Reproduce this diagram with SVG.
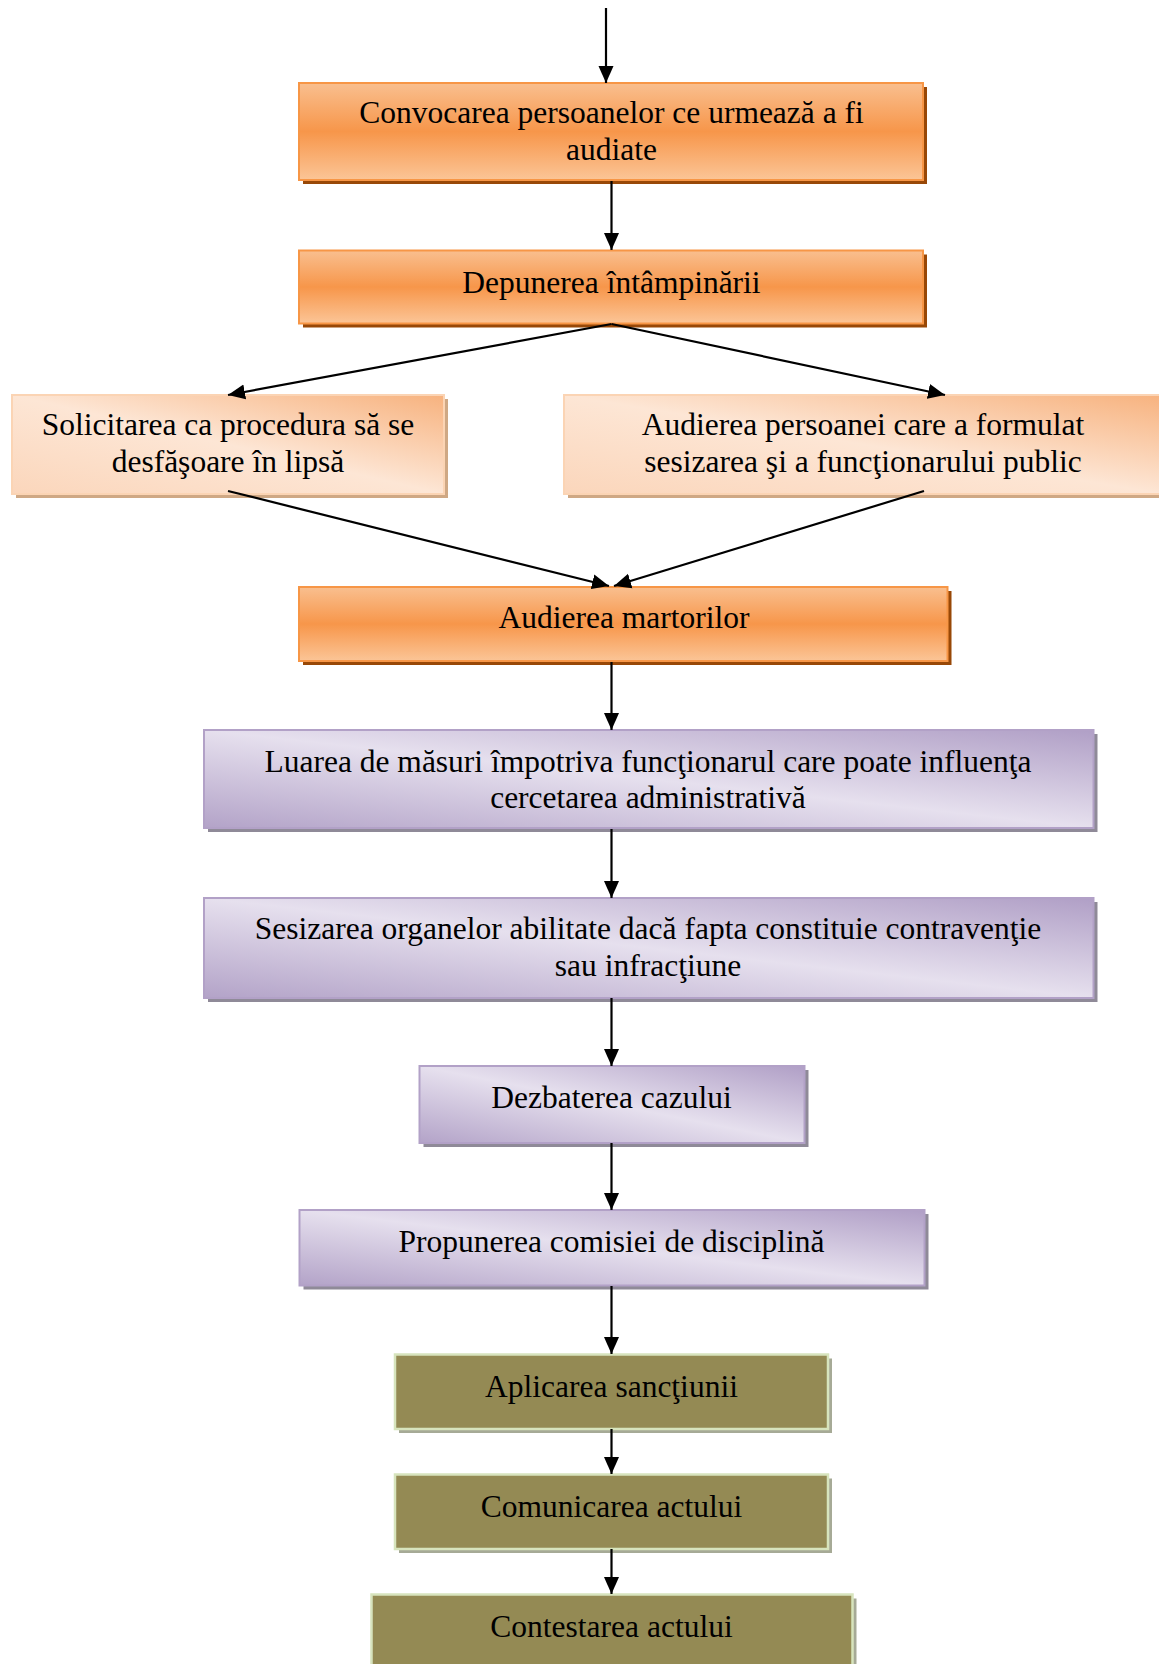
<svg xmlns="http://www.w3.org/2000/svg" width="1159" height="1664" viewBox="0 0 1159 1664">
  <defs>
    <linearGradient id="gOrange" x1="0" y1="0" x2="0" y2="1">
      <stop offset="0" stop-color="#f9bf8f"/>
      <stop offset="0.5" stop-color="#f7964a"/>
      <stop offset="1" stop-color="#fbc597"/>
    </linearGradient>
    <linearGradient id="gPeach" x1="1" y1="0" x2="0" y2="1">
      <stop offset="0" stop-color="#f7b27e"/>
      <stop offset="0.5" stop-color="#fde6d5"/>
      <stop offset="1" stop-color="#fbd6bb"/>
    </linearGradient>
    <linearGradient id="gPurple" x1="1" y1="0" x2="0" y2="1">
      <stop offset="0" stop-color="#b09fc6"/>
      <stop offset="0.5" stop-color="#e6e0ee"/>
      <stop offset="1" stop-color="#b3a3c8"/>
    </linearGradient>
    <marker id="arrow" markerUnits="userSpaceOnUse" markerWidth="18" markerHeight="16" refX="17" refY="8" orient="auto">
      <path d="M0,0.5 L17,8 L0,15.5 Z" fill="#000"/>
    </marker>
  </defs>
  <style>
    .lbl { font-family: "Liberation Serif", "Times New Roman", serif; font-size: 31.5px; fill: #000; text-anchor: middle; }
    .orange { fill: url(#gOrange); stroke: #f79646; stroke-width: 2; }
    .orange-sh { fill: #984807; }
    .peach { fill: url(#gPeach); stroke: #fbd4b4; stroke-width: 2; }
    .peach-sh { fill: #cfa884; }
    .purple { fill: url(#gPurple); stroke: #b2a1c7; stroke-width: 2; }
    .purple-sh { fill: #8f8a98; }
    .olive { fill: #948a54; stroke: #d7e4bd; stroke-width: 2.5; }
    .olive-sh { fill: #a6aa96; }
    .conn { stroke: #000; stroke-width: 2.2; fill: none; marker-end: url(#arrow); }
  </style>

  <rect width="1159" height="1664" fill="#fff"/>

  <!-- orange steps -->
  <g id="convocarea">
    <rect class="orange-sh" x="303" y="87" width="624" height="97"/>
    <rect class="orange" x="299" y="83" width="624" height="97"/>
    <text class="lbl" x="611.5" y="123">Convocarea persoanelor ce urmează a fi</text>
    <text class="lbl" x="611.5" y="160">audiate</text>
  </g>

  <g id="depunerea">
    <rect class="orange-sh" x="303" y="254.5" width="624" height="73"/>
    <rect class="orange" x="299" y="250.5" width="624" height="73"/>
    <text class="lbl" x="611.5" y="293">Depunerea întâmpinării</text>
  </g>

  <g id="solicitarea">
    <rect class="peach-sh" x="16" y="399" width="432" height="99"/>
    <rect class="peach" x="12" y="395" width="432" height="99"/>
    <text class="lbl" x="228" y="435">Solicitarea ca procedura să se</text>
    <text class="lbl" x="228" y="472">desfăşoare în lipsă</text>
  </g>

  <g id="audierea-persoanei">
    <rect class="peach-sh" x="568" y="399" width="600" height="99"/>
    <rect class="peach" x="564" y="395" width="600" height="99"/>
    <text class="lbl" x="863" y="435">Audierea persoanei care a formulat</text>
    <text class="lbl" x="863" y="472">sesizarea şi a funcţionarului public</text>
  </g>

  <g id="audierea-martorilor">
    <rect class="orange-sh" x="303" y="591" width="648.5" height="74"/>
    <rect class="orange" x="299" y="587" width="648.5" height="74"/>
    <text class="lbl" x="624" y="628">Audierea martorilor</text>
  </g>

  <!-- purple steps -->
  <g id="luarea-masuri">
    <rect class="purple-sh" x="208" y="734" width="889.5" height="98"/>
    <rect class="purple" x="204" y="730" width="889.5" height="98"/>
    <text class="lbl" x="648" y="771.5">Luarea de măsuri împotriva funcţionarul care poate influenţa</text>
    <text class="lbl" x="648" y="808">cercetarea administrativă</text>
  </g>

  <g id="sesizarea">
    <rect class="purple-sh" x="208" y="902" width="889.5" height="100"/>
    <rect class="purple" x="204" y="898" width="889.5" height="100"/>
    <text class="lbl" x="648" y="939">Sesizarea organelor abilitate dacă fapta constituie contravenţie</text>
    <text class="lbl" x="648" y="976">sau infracţiune</text>
  </g>

  <g id="dezbaterea">
    <rect class="purple-sh" x="423.5" y="1070" width="385" height="77"/>
    <rect class="purple" x="419.5" y="1066" width="385" height="77"/>
    <text class="lbl" x="611.5" y="1108">Dezbaterea cazului</text>
  </g>

  <g id="propunerea">
    <rect class="purple-sh" x="303.5" y="1214" width="625" height="75.5"/>
    <rect class="purple" x="299.5" y="1210" width="625" height="75.5"/>
    <text class="lbl" x="611.5" y="1252">Propunerea comisiei de disciplină</text>
  </g>

  <!-- olive steps -->
  <g id="aplicarea">
    <rect class="olive-sh" x="399" y="1358.5" width="433" height="74.5"/>
    <rect class="olive" x="395" y="1354.5" width="433" height="74.5"/>
    <text class="lbl" x="611.5" y="1397">Aplicarea sancţiunii</text>
  </g>

  <g id="comunicarea">
    <rect class="olive-sh" x="399" y="1478.5" width="433" height="74.5"/>
    <rect class="olive" x="395" y="1474.5" width="433" height="74.5"/>
    <text class="lbl" x="611.5" y="1517">Comunicarea actului</text>
  </g>

  <g id="contestarea">
    <rect class="olive-sh" x="375.5" y="1598.5" width="481" height="80"/>
    <rect class="olive" x="371.5" y="1594.5" width="481" height="80"/>
    <text class="lbl" x="611.5" y="1637">Contestarea actului</text>
  </g>

  <!-- connectors, drawn over the box shadows -->
  <g id="connectors">
    <line class="conn" x1="606" y1="8" x2="606" y2="83"/>
    <line class="conn" x1="611.5" y1="181" x2="611.5" y2="250"/>
    <line class="conn" x1="611.5" y1="324" x2="228" y2="395"/>
    <line class="conn" x1="611.5" y1="324" x2="945" y2="395"/>
    <line class="conn" x1="228" y1="491" x2="609" y2="586"/>
    <line class="conn" x1="924" y1="491" x2="614" y2="586"/>
    <line class="conn" x1="611.5" y1="662" x2="611.5" y2="730"/>
    <line class="conn" x1="611.5" y1="829" x2="611.5" y2="898"/>
    <line class="conn" x1="611.5" y1="998" x2="611.5" y2="1066"/>
    <line class="conn" x1="611.5" y1="1143" x2="611.5" y2="1210"/>
    <line class="conn" x1="611.5" y1="1286" x2="611.5" y2="1354"/>
    <line class="conn" x1="611.5" y1="1429" x2="611.5" y2="1474"/>
    <line class="conn" x1="611.5" y1="1549" x2="611.5" y2="1594"/>
  </g>
</svg>
